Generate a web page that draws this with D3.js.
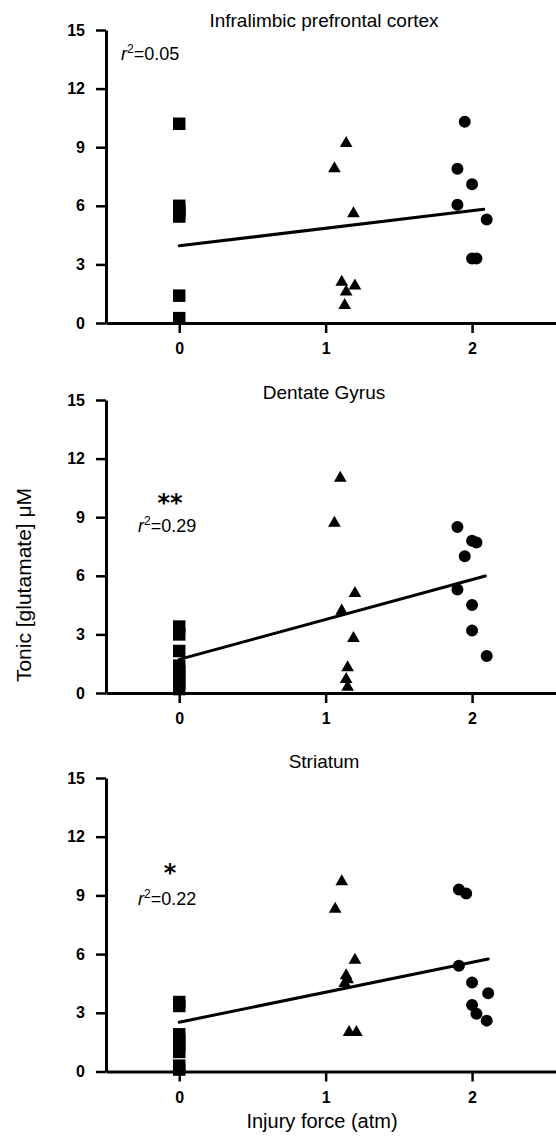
<!DOCTYPE html>
<html>
<head>
<meta charset="utf-8">
<script src="https://cdn.jsdelivr.net/npm/d3@7"></script>
<style>
  body { margin: 0; background: #fff; }
  svg { display: block; }
</style>
</head>
<body>
<svg id="chart" width="556" height="1142"></svg>
<script>
// panel text
var titles = ["Infralimbic prefrontal cortex", "Dentate Gyrus", "Striatum"];
var r2Values = ["0.05", "0.29", "0.22"];
var stars = ["", "**", "*"];
var yTicks = [0, 3, 6, 9, 12, 15];
var xTicks = [0, 1, 2];

// infralimbic prefrontal cortex: sham (0 atm), mild, moderate injury
var ilSham = [10.2, 6.0, 5.8, 5.6, 5.45, 1.4, 0.25];
var ilMild = [[1.14, 9.2], [1.06, 7.9], [1.19, 5.6], [1.11, 2.1], [1.20, 1.9], [1.14, 1.6], [1.13, 0.9]];
var ilModerate = [[1.95, 10.3], [1.90, 7.9], [2.00, 7.1], [1.90, 6.05], [2.10, 5.3], [2.00, 3.3], [2.03, 3.3]];
var ilFit = [0, 3.95, 2.08, 5.82];

// dentate gyrus
var dgSham = [3.4, 3.0, 2.15, 1.4, 1.1, 0.8, 0.5, 0.2];
var dgMild = [[1.10, 11.0], [1.06, 8.7], [1.20, 5.1], [1.11, 4.2], [1.19, 2.8], [1.15, 1.3], [1.14, 0.7], [1.15, 0.3]];
var dgModerate = [[1.90, 8.5], [2.00, 7.8], [2.03, 7.7], [1.95, 7.0], [1.90, 5.3], [2.00, 4.5], [2.00, 3.2], [2.10, 1.9]];
var dgFit = [0, 1.72, 2.09, 5.99];

// striatum
var stSham = [3.55, 3.35, 1.9, 1.6, 1.3, 1.0, 0.3, 0.1];
var stMild = [[1.11, 9.7], [1.065, 8.3], [1.20, 5.7], [1.14, 4.9], [1.15, 4.7], [1.13, 4.5], [1.16, 2.0], [1.21, 2.0]];
var stModerate = [[1.91, 9.3], [1.96, 9.1], [1.91, 5.4], [2.00, 4.55], [2.11, 4.0], [2.00, 3.4], [2.03, 2.95], [2.10, 2.6]];
var stFit = [0, 2.52, 2.11, 5.75];

var panels = [
  {top: 30,  bottom: 323,    titleDy: -3.3,  r2x: 121, r2Dy: 30,    starDy: 0,     sham: ilSham, mild: ilMild, moderate: ilModerate, fit: ilFit},
  {top: 400, bottom: 693,    titleDy: -0.7,  r2x: 138, r2Dy: 131.7, starDy: 110.5, sham: dgSham, mild: dgMild, moderate: dgModerate, fit: dgFit},
  {top: 778, bottom: 1071.5, titleDy: -10.3, r2x: 138, r2Dy: 127,   starDy: 102.5, sham: stSham, mild: stMild, moderate: stModerate, fit: stFit}
];

var sans = "'Liberation Sans', Arial, Helvetica, sans-serif";

var svg = d3.select("#chart");

var x = d3.scaleLinear().domain([-0.5, 2.58]).range([106, 557]);

var square = d3.symbol().type(d3.symbolSquare).size(156);
var triangle = d3.symbol().type(d3.symbolTriangle).size(70);
var circle = d3.symbol().type(d3.symbolCircle).size(113);

panels.forEach(function (p, i) {
  var y = d3.scaleLinear().domain([0, 15]).range([p.bottom, p.top]);
  var g = svg.append("g");

  // y axis
  var ya = g.append("g")
    .attr("transform", `translate(${x(-0.5)},0)`)
    .call(d3.axisLeft(y).tickValues(yTicks).tickSize(10).tickSizeOuter(0).tickPadding(11));

  // x axis
  var xa = g.append("g")
    .attr("transform", `translate(0,${p.bottom})`)
    .call(d3.axisBottom(x).tickValues(xTicks).tickFormat(d3.format("d"))
      .tickSize(10).tickSizeOuter(0).tickPadding(10));

  [ya, xa].forEach(function (a) {
    a.select(".domain").attr("stroke", "#000").attr("stroke-width", 3);
    a.selectAll(".tick line").attr("stroke", "#000").attr("stroke-width", 2.5);
    a.selectAll(".tick text")
      .attr("fill", "#000")
      .attr("font-family", sans)
      .attr("font-weight", "bold")
      .attr("font-size", 16);
  });

  // points
  g.selectAll(".sham").data(p.sham).enter().append("path")
    .attr("transform", d => `translate(${x(0)},${y(d)})`)
    .attr("d", square);

  g.selectAll(".mild").data(p.mild).enter().append("path")
    .attr("transform", d => `translate(${x(d[0])},${y(d[1])})`)
    .attr("d", triangle);

  g.selectAll(".moderate").data(p.moderate).enter().append("path")
    .attr("transform", d => `translate(${x(d[0])},${y(d[1])})`)
    .attr("d", circle);

  // regression line
  g.append("line")
    .attr("x1", x(p.fit[0])).attr("y1", y(p.fit[1]))
    .attr("x2", x(p.fit[2])).attr("y2", y(p.fit[3]))
    .attr("stroke", "#000")
    .attr("stroke-width", 3)
    .attr("stroke-linecap", "round");

  // title
  g.append("text")
    .attr("x", 324)
    .attr("y", p.top + p.titleDy)
    .attr("text-anchor", "middle")
    .attr("font-family", sans)
    .attr("font-size", 19)
    .text(titles[i]);

  // r squared
  var t = g.append("text")
    .attr("x", p.r2x)
    .attr("y", p.top + p.r2Dy)
    .attr("font-family", sans)
    .attr("font-size", 18);
  t.append("tspan").attr("font-style", "italic").text("r");
  t.append("tspan").attr("font-size", 12).attr("dy", -7).text("2");
  t.append("tspan").attr("dy", 7).text("=" + r2Values[i]);

  if (stars[i]) {
    g.append("text")
      .attr("x", 170)
      .attr("y", p.top + p.starDy)
      .attr("text-anchor", "middle")
      .attr("font-family", "'DejaVu Sans', sans-serif")
      .attr("font-weight", "bold")
      .attr("font-size", 24)
      .text(stars[i]);
  }
});

// axis titles
svg.append("text")
  .attr("transform", "translate(31,585) rotate(-90)")
  .attr("text-anchor", "middle")
  .attr("font-family", sans)
  .attr("font-size", 21)
  .text("Tonic [glutamate] μM");

svg.append("text")
  .attr("x", 322)
  .attr("y", 1128)
  .attr("text-anchor", "middle")
  .attr("font-family", sans)
  .attr("font-size", 20)
  .text("Injury force (atm)");
</script>
</body>
</html>
